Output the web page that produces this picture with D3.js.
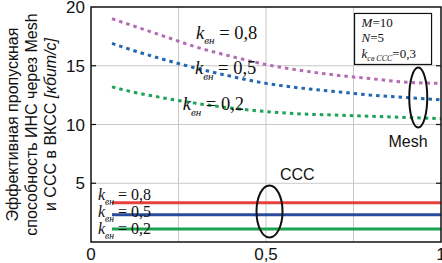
<!DOCTYPE html>
<html>
<head>
<meta charset="utf-8">
<script src="https://cdn.jsdelivr.net/npm/d3@7"></script>
<style>
  body { margin: 0; background: #fff; }
  svg { display: block; }
  .grid line { stroke: #c8c8c8; stroke-width: 1; }
  .tick-lab { font-family: "Liberation Sans", Arial, sans-serif; font-size: 17px; fill: #111; }
  .serif { font-family: "Liberation Serif", "Times New Roman", serif; fill: #111; }
</style>
</head>
<body>
<div id="chart"></div>
<script>
// Mesh curves (dashed), x = доля, y = кбит/с
var meshX = [0.06, 0.1, 0.2, 0.3, 0.4, 0.5, 0.6, 0.7, 0.8, 0.9, 1.0];
var mesh08 = [19.0, 18.6, 17.6, 16.6, 15.8, 15.1, 14.6, 14.2, 13.9, 13.6, 13.5];
var mesh05 = [16.9, 16.5, 15.6, 14.8, 14.1, 13.5, 13.1, 12.8, 12.5, 12.3, 12.1];
var mesh02 = [13.2, 12.9, 12.3, 11.8, 11.4, 11.1, 10.9, 10.8, 10.7, 10.6, 10.5];

// CCC lines (flat)
var cccX = [0.06, 1.0];
var ccc08 = [3.35, 3.35];
var ccc05 = [2.32, 2.32];
var ccc02 = [1.11, 1.11];

var xTicks = [0, 0.5, 1];
var xTickLabels = ["0", "0,5", "1"];
var yTicks = [5, 10, 15, 20];
var xGrid = [0.25, 0.5, 0.75];
var yGrid = [5, 10, 15];

var yLabelLines = ["Эффективная пропускная", "способность ИНС через Mesh", "и ССС в ВКСС "];

var width = 442, height = 263;
var margin = {top: 7, right: 1, bottom: 21, left: 91};

var svg = d3.select("#chart").append("svg")
    .attr("width", width)
    .attr("height", height);

var x = d3.scaleLinear().domain([0, 1]).range([margin.left, width - margin.right]);
var y = d3.scaleLinear().domain([0, 20]).range([height - margin.bottom, margin.top]);

// grid
var grid = svg.append("g").attr("class", "grid");
grid.selectAll(".gx").data(xGrid).enter().append("line")
    .attr("x1", function(d){ return x(d); }).attr("x2", function(d){ return x(d); })
    .attr("y1", y(0)).attr("y2", y(20));
grid.selectAll(".gy").data(yGrid).enter().append("line")
    .attr("x1", x(0)).attr("x2", x(1))
    .attr("y1", function(d){ return y(d); }).attr("y2", function(d){ return y(d); });

// inner tick marks left and right
svg.selectAll(".tl").data(yTicks.slice(0, 3)).enter().append("line")
    .attr("x1", x(0)).attr("x2", x(0) + 5)
    .attr("y1", function(d){ return y(d); }).attr("y2", function(d){ return y(d); })
    .attr("stroke", "#111").attr("stroke-width", 1.2);
svg.selectAll(".tr").data(yTicks.slice(0, 3)).enter().append("line")
    .attr("x1", x(1)).attr("x2", x(1) - 5)
    .attr("y1", function(d){ return y(d); }).attr("y2", function(d){ return y(d); })
    .attr("stroke", "#111").attr("stroke-width", 1.2);

// lines
var line = d3.line()
    .x(function(d){ return x(d[0]); })
    .y(function(d){ return y(d[1]); })
    .curve(d3.curveMonotoneX);

function zip(xs, ys){ return xs.map(function(v, i){ return [v, ys[i]]; }); }

var meshSeries = [
  {vals: mesh08, color: "#b66cb4"},
  {vals: mesh05, color: "#2267b0"},
  {vals: mesh02, color: "#1ea35a"}
];
meshSeries.forEach(function(s){
  svg.append("path")
    .attr("d", line(zip(meshX, s.vals)))
    .attr("fill", "none")
    .attr("stroke", s.color)
    .attr("stroke-width", 3)
    .attr("stroke-dasharray", "3.5,4");
});

var cccSeries = [
  {vals: ccc08, color: "#e8403c"},
  {vals: ccc05, color: "#294c9c"},
  {vals: ccc02, color: "#1aa350"}
];
cccSeries.forEach(function(s){
  svg.append("path")
    .attr("d", line(zip(cccX, s.vals)))
    .attr("fill", "none")
    .attr("stroke", s.color)
    .attr("stroke-width", 3);
});

// frame
svg.append("rect")
    .attr("x", x(0)).attr("y", y(20))
    .attr("width", x(1) - x(0)).attr("height", y(0) - y(20))
    .attr("fill", "none").attr("stroke", "#111").attr("stroke-width", 1.5);

// tick labels
svg.selectAll(".yl").data(yTicks).enter().append("text")
    .attr("class", "tick-lab")
    .attr("x", x(0) - 6)
    .attr("y", function(d){ return y(d) + 6; })
    .attr("text-anchor", "end")
    .text(function(d){ return d; });
svg.selectAll(".xl").data(xTicks).enter().append("text")
    .attr("class", "tick-lab")
    .attr("x", function(d){ return x(d); })
    .attr("y", height - 3)
    .attr("text-anchor", "middle")
    .text(function(d, i){ return xTickLabels[i]; });

// y axis title
var yt = svg.append("text")
    .attr("transform", "translate(0," + ((y(0) + y(20)) / 2) + ") rotate(-90)")
    .attr("text-anchor", "middle")
    .style("font-family", "Liberation Sans, Arial, sans-serif")
    .style("font-size", "16px")
    .style("fill", "#111");
yLabelLines.forEach(function(t, i){
  var ts = yt.append("tspan").attr("x", 0).attr("y", 18 + i * 19).text(t);
  if (i == 2) {
    yt.append("tspan").style("font-style", "italic").text("[кбит/с]");
  }
});

// k_вн labels
function kLabel(px, py, val, size){
  var t = svg.append("text").attr("class", "serif")
    .attr("x", px).attr("y", py)
    .style("font-size", size + "px");
  t.append("tspan").style("font-style", "italic").text("k");
  t.append("tspan").style("font-style", "italic").style("font-size", (size * 0.6) + "px")
    .attr("dy", size * 0.3).text("вн");
  t.append("tspan").attr("dy", -size * 0.3).text(" = " + val);
}
kLabel(x(0.3), y(17.3), "0,8", 18.5);
kLabel(x(0.297), y(14.3), "0,5", 18.5);
kLabel(x(0.262), y(11.2), "0,2", 18.5);
kLabel(x(0.02), y(3.6), "0,8", 16);
kLabel(x(0.02), y(2.1), "0,5", 16);
kLabel(x(0.02), y(0.7), "0,2", 16);

// ellipses
svg.append("ellipse")
    .attr("cx", x(0.935)).attr("cy", y(12.3))
    .attr("rx", 9).attr("ry", 30)
    .attr("fill", "none").attr("stroke", "#111").attr("stroke-width", 2);
svg.append("ellipse")
    .attr("cx", x(0.51)).attr("cy", y(2.6))
    .attr("rx", 13).attr("ry", 26)
    .attr("fill", "none").attr("stroke", "#111").attr("stroke-width", 2);

svg.append("text").attr("class", "tick-lab")
    .attr("x", x(0.85)).attr("y", y(8.1))
    .style("font-size", "16px").text("Mesh");
svg.append("text").attr("class", "tick-lab")
    .attr("x", x(0.54)).attr("y", y(5.3))
    .style("font-size", "16px").text("CCC");

// parameter box
var bx = x(0.753), by = y(19.45);
svg.append("rect")
    .attr("x", bx).attr("y", by)
    .attr("width", 77).attr("height", 51)
    .attr("fill", "#fff").attr("stroke", "#111").attr("stroke-width", 1.2);
var p1 = svg.append("text").attr("class", "serif").attr("x", bx + 7).attr("y", by + 14).style("font-size", "13px");
p1.append("tspan").style("font-style", "italic").text("M");
p1.append("tspan").text("=10");
var p2 = svg.append("text").attr("class", "serif").attr("x", bx + 7).attr("y", by + 29).style("font-size", "13px");
p2.append("tspan").style("font-style", "italic").text("N");
p2.append("tspan").text("=5");
var p3 = svg.append("text").attr("class", "serif").attr("x", bx + 7).attr("y", by + 45).style("font-size", "13px");
p3.append("tspan").style("font-style", "italic").text("k");
p3.append("tspan").style("font-style", "italic").style("font-size", "8px").attr("dy", 3).text("св ССС");
p3.append("tspan").attr("dy", -3).text("=0,3");
</script>
</body>
</html>
